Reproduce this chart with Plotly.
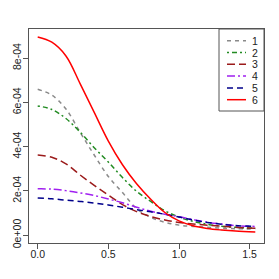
import plotly.graph_objects as go

# x grid (data)
x = [0.0, 0.1, 0.2, 0.3, 0.4, 0.5, 0.6, 0.7, 0.8, 0.9, 1.0, 1.1, 1.2, 1.3, 1.4, 1.54]

# series values (units of 1e-4)
s1 = [6.59, 6.33, 5.70, 4.65, 3.62, 2.65, 1.92, 1.20, 0.80, 0.58, 0.45, 0.39, 0.35, 0.31, 0.29, 0.27]
s2 = [5.84, 5.68, 5.27, 4.66, 3.95, 3.30, 2.60, 1.98, 1.52, 1.10, 0.82, 0.62, 0.49, 0.40, 0.35, 0.31]
s3 = [3.62, 3.52, 3.22, 2.72, 2.25, 1.81, 1.38, 1.06, 0.84, 0.68, 0.57, 0.50, 0.45, 0.40, 0.35, 0.31]
s4 = [2.09, 2.08, 2.01, 1.91, 1.79, 1.63, 1.46, 1.26, 1.08, 0.94, 0.83, 0.70, 0.58, 0.50, 0.43, 0.39]
s5 = [1.68, 1.64, 1.58, 1.52, 1.45, 1.36, 1.26, 1.15, 1.05, 0.94, 0.82, 0.68, 0.57, 0.49, 0.43, 0.39]
s6 = [8.96, 8.72, 8.10, 6.85, 5.55, 4.25, 3.18, 2.32, 1.62, 1.02, 0.64, 0.42, 0.30, 0.23, 0.18, 0.14]

names = ["1", "2", "3", "4", "5", "6"]
series = [s1, s2, s3, s4, s5, s6]
colors = ["#8a8a8a", "#228B22", "#9B1B1B", "#A020F0", "#00008B", "#FF0000"]
dashes = ["4px,4px", "2px,3px,5px,3px", "8px,4px", "8px,3px,2px,3px", "6px,4px", "solid"]

yticks = [0, 2e-4, 4e-4, 6e-4, 8e-4]
yticktext = ["0e+00", "2e-04", "4e-04", "6e-04", "8e-04"]
xticks = [0.0, 0.5, 1.0, 1.5]
xticktext = ["0.0", "0.5", "1.0", "1.5"]

FONT = "Liberation Sans, Arial, sans-serif"

fig = go.Figure()
for name, vals, c, d in zip(names, series, colors, dashes):
    fig.add_trace(go.Scatter(
        x=x, y=[v * 1e-4 for v in vals], mode="lines", name=name,
        line=dict(color=c, width=1.5, dash=d, shape="spline", smoothing=1.0),
        showlegend=False,
    ))

W, H = 279, 279
L, R, T, B = 29, 15, 29, 36
pw, ph = W - L - R, H - T - B

def px_x(p):
    return (p - L) / pw

def px_y(p):
    return (H - B - p) / ph

shapes = []
annotations = []
# legend box
shapes.append(dict(type="rect", xref="paper", yref="paper",
                   x0=px_x(219), x1=1.0, y0=px_y(111), y1=1.0,
                   line=dict(color="#555", width=1), fillcolor="white", layer="above"))
for i, (name, c, d) in enumerate(zip(names, colors, dashes)):
    yy = px_y(40.7 + 11.8 * i)
    shapes.append(dict(type="line", xref="paper", yref="paper",
                       x0=px_x(227), x1=px_x(246), y0=yy, y1=yy,
                       line=dict(color=c, width=1.5, dash=d), layer="above"))
    annotations.append(dict(xref="paper", yref="paper", x=px_x(255), y=yy,
                            text=name, showarrow=False, xanchor="center", yanchor="middle",
                            font=dict(family=FONT, size=10.5, color="#222")))

fig.update_layout(
    width=W, height=H,
    margin=dict(l=L, r=R, t=T, b=B, pad=0, autoexpand=False),
    paper_bgcolor="white", plot_bgcolor="white",
    shapes=shapes, annotations=annotations,
    showlegend=False,
    font=dict(family=FONT, size=10, color="#222"),
)
fig.update_xaxes(
    range=[-0.0616, 1.6016], tickvals=xticks, ticktext=xticktext,
    showgrid=False, zeroline=False, showline=True, mirror=True, automargin=False,
    linecolor="#555", linewidth=1, ticks="outside", ticklen=5, tickcolor="#555",
    ticklabelstandoff=-4,
    tickfont=dict(family=FONT, size=10.5, color="#222"),
)
fig.update_yaxes(
    range=[-0.358e-4, 9.318e-4], tickvals=yticks, ticktext=yticktext,
    showgrid=False, zeroline=False, showline=True, mirror=True, automargin=False,
    linecolor="#555", linewidth=1, ticks="outside", ticklen=5, tickcolor="#555",
    ticklabelstandoff=-2,
    tickangle=-90, tickfont=dict(family=FONT, size=10.5, color="#222"),
)

fig.write_html("out.html", config={"displayModeBar": False},
               post_script="document.body.style.margin='0px';document.body.style.overflow='hidden';")
